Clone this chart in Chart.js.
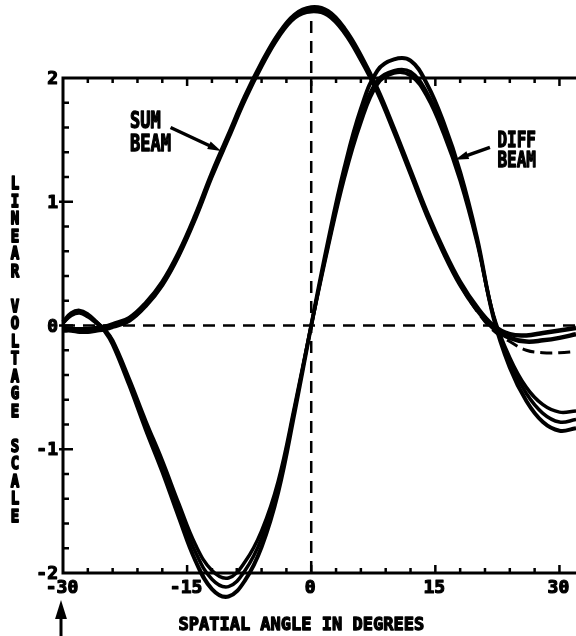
<!DOCTYPE html>
<html>
<head>
<meta charset="utf-8">
<script src="https://cdn.jsdelivr.net/npm/chart.js@4"></script>
<style>
  html, body { margin: 0; padding: 0; background: #fff; }
  #wrap { width: 576px; height: 636px; position: relative; }
</style>
</head>
<body>
<div id="wrap"><canvas id="beamChart"></canvas></div>
<script>
// spatial angle samples (degrees)
const angles = [-30, -29, -28, -27, -26, -25, -24, -22, -20, -18, -16, -14, -12, -10, -8, -6, -4, -2,
  0, 2, 4, 6, 8, 10, 12, 14, 16, 18, 20, 22, 24, 26, 28, 30, 32];

// sum beam, three plotted passes (upper, lower, dashed)
const sumUpper = [-0.02, -0.03, -0.03, -0.03, -0.02, -0.01, 0.01, 0.06, 0.18, 0.35, 0.59, 0.89, 1.23, 1.54, 1.85, 2.12, 2.35, 2.51,
  2.57, 2.54, 2.40, 2.18, 1.91, 1.59, 1.25, 0.91, 0.61, 0.35, 0.15, 0.0, -0.07, -0.08, -0.06, -0.04, -0.02];
const sumLower = [-0.04, -0.04, -0.05, -0.05, -0.04, -0.03, -0.01, 0.04, 0.16, 0.33, 0.57, 0.87, 1.21, 1.52, 1.83, 2.10, 2.33, 2.49,
  2.54, 2.51, 2.37, 2.15, 1.89, 1.57, 1.23, 0.89, 0.59, 0.33, 0.13, -0.02, -0.10, -0.13, -0.12, -0.10, -0.07];
const sumDashed = [-0.04, -0.04, -0.05, -0.05, -0.04, -0.03, -0.01, 0.04, 0.16, 0.33, 0.57, 0.87, 1.21, 1.52, 1.83, 2.10, 2.33, 2.49,
  2.54, 2.51, 2.37, 2.15, 1.89, 1.57, 1.23, 0.89, 0.59, 0.33, 0.12, -0.04, -0.13, -0.20, -0.22, -0.22, -0.21];

// difference beam, three plotted passes
const diffOuter = [0.03, 0.10, 0.12, 0.09, 0.03, -0.04, -0.15, -0.48, -0.84, -1.18, -1.55, -1.90, -2.13, -2.19, -2.06, -1.79, -1.35, -0.70,
  0.0, 0.67, 1.27, 1.75, 2.06, 2.15, 2.14, 1.95, 1.64, 1.24, 0.72, 0.07, -0.34, -0.61, -0.78, -0.85, -0.83];
const diffMid = [0.02, 0.09, 0.11, 0.08, 0.03, -0.03, -0.13, -0.45, -0.80, -1.13, -1.49, -1.83, -2.05, -2.11, -1.98, -1.72, -1.30, -0.67,
  0.0, 0.64, 1.22, 1.68, 1.98, 2.06, 2.05, 1.88, 1.58, 1.20, 0.70, 0.08, -0.30, -0.55, -0.71, -0.78, -0.76];
const diffInner = [0.02, 0.08, 0.10, 0.07, 0.02, -0.03, -0.12, -0.43, -0.77, -1.09, -1.44, -1.77, -1.98, -2.04, -1.91, -1.66, -1.26, -0.65,
  0.0, 0.62, 1.19, 1.64, 1.95, 2.04, 2.02, 1.85, 1.55, 1.17, 0.68, 0.09, -0.26, -0.50, -0.64, -0.70, -0.69];

// axis ticks and labels
const xLabels = [-30, -15, 0, 15, 30];
const yLabels = [-2, -1, 0, 1, 2];

const FONT = '"DejaVu Sans Mono", monospace';

function pts(vals) {
  return angles.map((a, i) => ({ x: a, y: vals[i] }));
}

function trace(vals, width, dash) {
  return {
    data: pts(vals),
    borderColor: '#000',
    borderWidth: width,
    borderDash: dash || [],
    pointRadius: 0,
    tension: 0.4,
    fill: false,
    clip: false
  };
}

// stretched heavy lettering, like the plotter font
function label(ctx, text, x, y, size, align, stretch, weight) {
  ctx.save();
  ctx.translate(x, y);
  ctx.scale(1, stretch || 1);
  ctx.font = 'bold ' + size + 'px ' + FONT;
  ctx.textAlign = align || 'left';
  ctx.textBaseline = 'alphabetic';
  ctx.fillStyle = '#000';
  ctx.strokeStyle = '#000';
  ctx.lineWidth = weight || 1;
  ctx.lineJoin = 'round';
  ctx.fillText(text, 0, 0);
  ctx.strokeText(text, 0, 0);
  ctx.restore();
}

function arrow(ctx, x1, y1, x2, y2, head, w) {
  const ang = Math.atan2(y2 - y1, x2 - x1);
  ctx.beginPath();
  ctx.moveTo(x1, y1);
  ctx.lineTo(x2 - Math.cos(ang) * head * 0.6, y2 - Math.sin(ang) * head * 0.6);
  ctx.lineWidth = w;
  ctx.stroke();
  ctx.beginPath();
  ctx.moveTo(x2, y2);
  ctx.lineTo(x2 - head * Math.cos(ang - 0.3), y2 - head * Math.sin(ang - 0.3));
  ctx.lineTo(x2 - head * Math.cos(ang + 0.3), y2 - head * Math.sin(ang + 0.3));
  ctx.closePath();
  ctx.fill();
}

const frame = {
  id: 'frame',
  beforeDatasetsDraw(chart) {
    const { ctx, scales: { x, y } } = chart;
    ctx.save();
    ctx.strokeStyle = '#000';
    ctx.lineWidth = 2.5;
    ctx.setLineDash([12, 8]);
    // zero reference lines
    ctx.beginPath();
    ctx.moveTo(x.getPixelForValue(-30), y.getPixelForValue(0));
    ctx.lineTo(x.getPixelForValue(32), y.getPixelForValue(0));
    ctx.moveTo(x.getPixelForValue(0), y.getPixelForValue(-2));
    ctx.lineTo(x.getPixelForValue(0), y.getPixelForValue(2.5));
    ctx.stroke();
    ctx.restore();
  },
  afterDraw(chart) {
    const { ctx, scales: { x, y } } = chart;
    const L = x.getPixelForValue(-30), R = x.getPixelForValue(32);
    const T = y.getPixelForValue(2), B = y.getPixelForValue(-2);
    ctx.save();
    ctx.strokeStyle = '#000';
    ctx.fillStyle = '#000';
    ctx.lineCap = 'square';
    ctx.lineWidth = 3;
    ctx.beginPath();
    ctx.moveTo(L, T); ctx.lineTo(R, T);
    ctx.moveTo(L, T); ctx.lineTo(L, B);
    ctx.moveTo(L, B); ctx.lineTo(R, B);
    ctx.stroke();

    // ticks every 3 degrees, every 0.2 volts, pointing inward
    ctx.lineWidth = 2.5;
    ctx.lineCap = 'butt';
    ctx.beginPath();
    for (let a = -27; a <= 30; a += 3) {
      const px = x.getPixelForValue(a);
      const major = a % 15 === 0;
      ctx.moveTo(px, B); ctx.lineTo(px, B - (major ? 8 : 5));
      ctx.moveTo(px, T); ctx.lineTo(px, T + (major ? 8 : 5));
    }
    for (let k = -9; k <= 9; k++) {
      const py = y.getPixelForValue(k / 5);
      const major = k % 5 === 0;
      ctx.moveTo(major ? L - 4 : L, py); ctx.lineTo(L + (major ? 10 : 6), py);
    }
    ctx.stroke();

    xLabels.forEach(v => label(ctx, String(v), x.getPixelForValue(v) - 1, B + 20, 18, 'center', 1, 1.2));
    yLabels.forEach(v => label(ctx, String(v), L - 5, y.getPixelForValue(v) + 6, 18, 'right', 1, 1.2));

    label(ctx, 'SPATIAL ANGLE IN DEGREES', x.getPixelForValue(-1.2), B + 57, 17, 'center', 1.05, 1.2);

    // vertical axis title, upright letters stacked
    const title = 'LINEAR VOLTAGE SCALE';
    for (let i = 0; i < title.length; i++) {
      if (title[i] !== ' ') label(ctx, title[i], 15, 189 + i * 17.5, 14, 'center', 1.25, 1.4);
    }

    // curve call-outs
    label(ctx, 'SUM', x.getPixelForValue(-21.9), y.getPixelForValue(1.6), 17, 'left', 1.3, 1);
    label(ctx, 'BEAM', x.getPixelForValue(-21.9), y.getPixelForValue(1.41), 17, 'left', 1.3, 1);
    arrow(ctx, x.getPixelForValue(-17.0), y.getPixelForValue(1.6),
      x.getPixelForValue(-10.9), y.getPixelForValue(1.41), 14, 3.5);
    label(ctx, 'DIFF', x.getPixelForValue(22.5), y.getPixelForValue(1.44), 16, 'left', 1.35, 1);
    label(ctx, 'BEAM', x.getPixelForValue(22.5), y.getPixelForValue(1.28), 16, 'left', 1.35, 1);
    arrow(ctx, x.getPixelForValue(21.6), y.getPixelForValue(1.44),
      x.getPixelForValue(17.4), y.getPixelForValue(1.34), 14, 3.5);

    // marker arrow under the -30 degree end
    arrow(ctx, L - 2, chart.height, L - 2, B + 27, 20, 3);
    ctx.restore();
  }
};

new Chart(document.getElementById('beamChart'), {
  type: 'line',
  data: {
    datasets: [
      trace(sumUpper, 4.5),
      trace(sumLower, 4.5),
      trace(sumDashed, 3, [12, 6]),
      trace(diffOuter, 4),
      trace(diffMid, 3.5),
      trace(diffInner, 3.5)
    ]
  },
  options: {
    responsive: true,
    maintainAspectRatio: false,
    animation: false,
    layout: { padding: { left: 63, right: 0, top: 78, bottom: 63 } },
    scales: {
      x: { type: 'linear', min: -30, max: 32, display: false },
      y: { type: 'linear', min: -2, max: 2, display: false }
    },
    plugins: { legend: { display: false }, tooltip: { enabled: false } }
  },
  plugins: [frame]
});
</script>
</body>
</html>
